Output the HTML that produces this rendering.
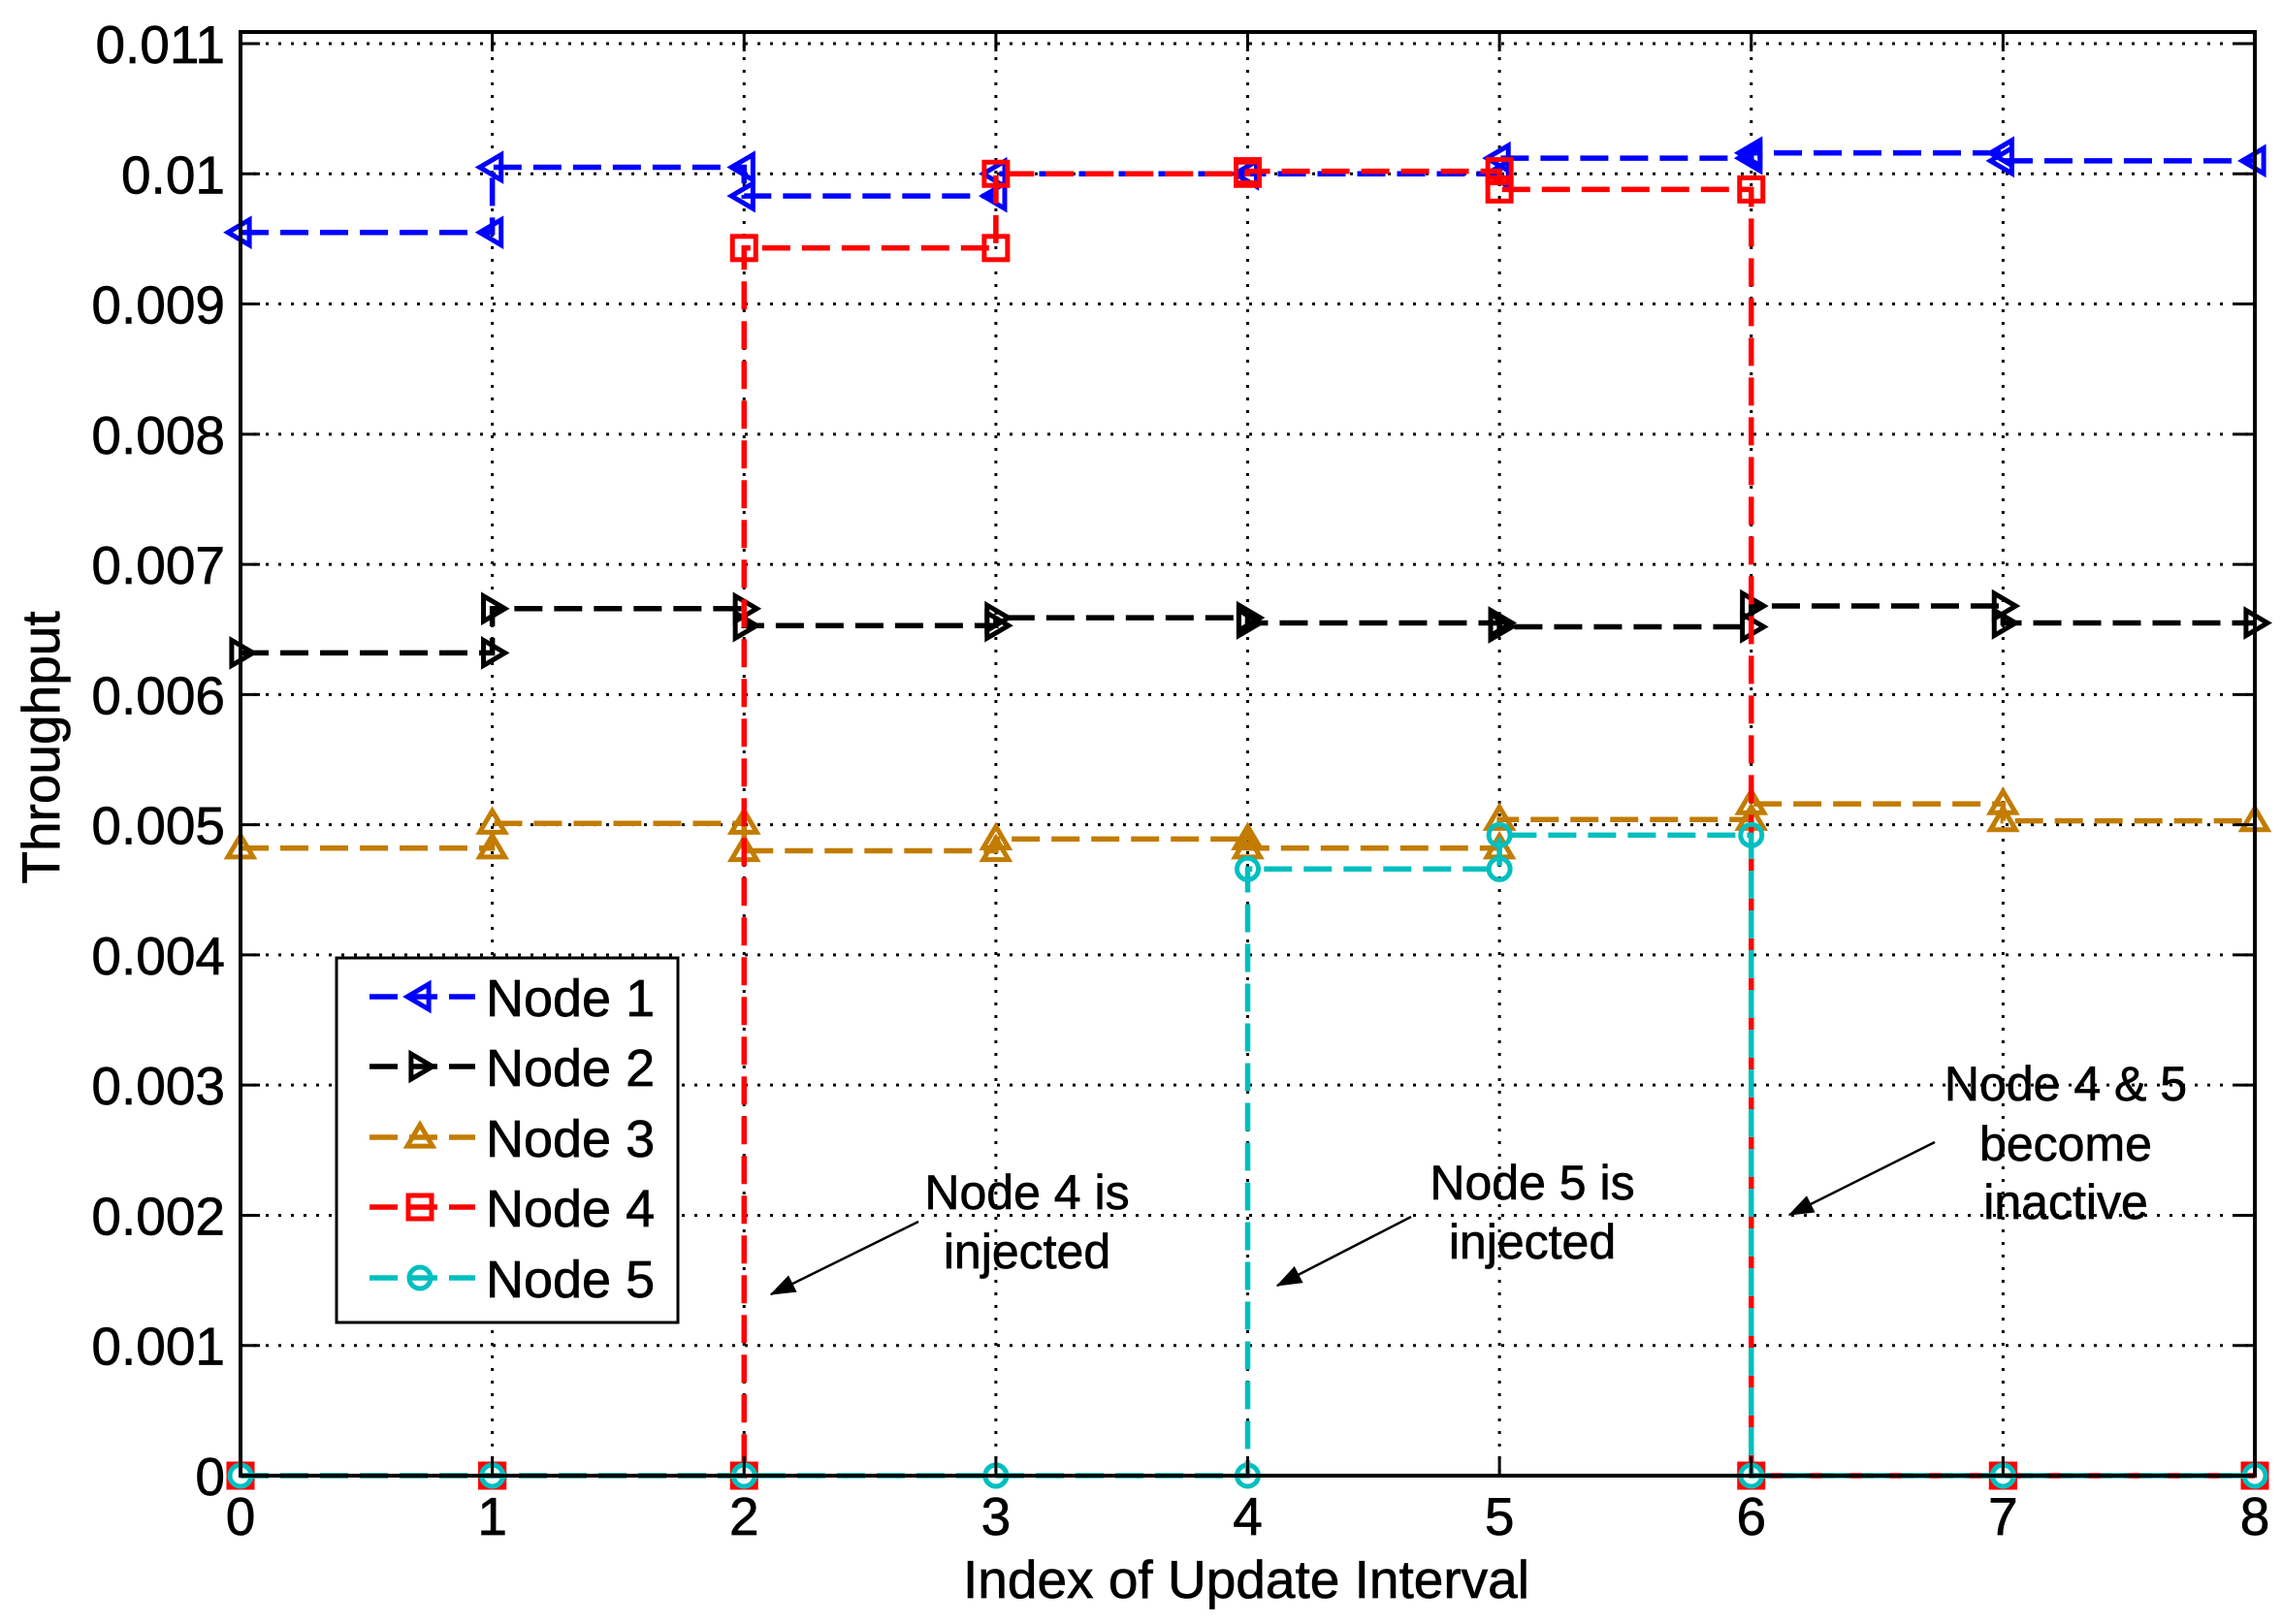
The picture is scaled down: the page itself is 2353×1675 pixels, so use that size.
<!DOCTYPE html>
<html><head><meta charset="utf-8"><style>
html,body{margin:0;padding:0;background:#fff;}
svg{display:block;}
text{font-family:"Liberation Sans",Arial,sans-serif;fill:#000;stroke:#000;stroke-width:0.7px;}
</style></head><body>
<svg id="s" width="2353" height="1675" viewBox="0 0 2353 1675" xmlns="http://www.w3.org/2000/svg">
<g id="grid"></g>
<g id="series"></g>
<rect x="248" y="33" width="2077" height="1489" fill="none" stroke="#000" stroke-width="4"/>
<g id="ticks"></g>
<g font-size="55">
<text x="1285" y="1648" text-anchor="middle">Index of Update Interval</text>
<text transform="translate(61,771) rotate(-90)" text-anchor="middle">Throughput</text>
</g>
<g font-size="50" text-anchor="middle">
<text x="1059" y="1247">Node 4 is</text><text x="1059" y="1308">injected</text>
<text x="1580" y="1237">Node 5 is</text><text x="1580" y="1298">injected</text>
<text x="2130" y="1135">Node 4 &amp; 5</text><text x="2130" y="1197">become</text><text x="2130" y="1257">inactive</text>
</g>
<g id="arrows" stroke="#000" stroke-width="2.5" fill="#000"></g>
<g id="legend"></g>
</svg>
<script>
var NS="http://www.w3.org/2000/svg";
function el(p,t,a){var e=document.createElementNS(NS,t);for(var k in a)e.setAttribute(k,a[k]);p.appendChild(e);return e;}
var X0=248,X1=2325,Y0=1522,Y1=45;
function X(i){return X0+i*(X1-X0)/8;}
function Y(v){return Y0-v*(Y0-Y1)/0.011;}
var g=document.getElementById('grid'),tk=document.getElementById('ticks');
for(var i=1;i<8;i++)el(g,'line',{x1:X(i),y1:33,x2:X(i),y2:1522,stroke:'#000','stroke-width':3,'stroke-dasharray':'3 10'});
for(var j=1;j<=11;j++)el(g,'line',{x1:248,y1:Y(j*0.001),x2:2325,y2:Y(j*0.001),stroke:'#000','stroke-width':3,'stroke-dasharray':'3 10'});
for(var i=0;i<=8;i++){el(tk,'line',{x1:X(i),y1:1522,x2:X(i),y2:1502,stroke:'#000','stroke-width':3});el(tk,'line',{x1:X(i),y1:33,x2:X(i),y2:53,stroke:'#000','stroke-width':3});
var t=el(tk,'text',{x:X(i),y:1583,'text-anchor':'middle','font-size':55});t.textContent=i;}
var labs=['0','0.001','0.002','0.003','0.004','0.005','0.006','0.007','0.008','0.009','0.01','0.011'];
for(var j=0;j<=11;j++){var y=Y(j*0.001);el(tk,'line',{x1:248,y1:y,x2:268,y2:y,stroke:'#000','stroke-width':3});el(tk,'line',{x1:2325,y1:y,x2:2305,y2:y,stroke:'#000','stroke-width':3});
var t=el(tk,'text',{x:232,y:y+20,'text-anchor':'end','font-size':55});t.textContent=labs[j];}
var S=[
{c:'#0000ff',m:'L',v:[0.00955,0.01005,0.00983,0.01000,0.01000,0.01012,0.01016,0.01010]},
{c:'#000000',m:'R',v:[0.00632,0.00666,0.00653,0.00659,0.00655,0.00652,0.00668,0.00655]},
{c:'#c27c00',m:'T',v:[0.00482,0.00501,0.00480,0.00489,0.00482,0.00504,0.00516,0.00503]},
{c:'#ff0000',m:'S',v:[0,0,0.00943,0.01000,0.01002,0.00988,0,0]},
{c:'#00bfbf',m:'O',v:[0,0,0,0,0.00466,0.00492,0,0]}];
function mk(p,m,x,y,c){var r=13,a={fill:'none',stroke:c,'stroke-width':5};
if(m=='L')a.points=(x+r*0.7)+','+(y-r)+' '+(x+r*0.7)+','+(y+r)+' '+(x-r)+','+y;
if(m=='R')a.points=(x-r*0.7)+','+(y-r)+' '+(x-r*0.7)+','+(y+r)+' '+(x+r)+','+y;
if(m=='T')a.points=(x-r)+','+(y+r*0.7)+' '+(x+r)+','+(y+r*0.7)+' '+x+','+(y-r);
if(m=='S'){a.x=x-12;a.y=y-12;a.width=24;a.height=24;el(p,'rect',a);return;}
if(m=='O'){a.cx=x;a.cy=y;a.r=11;el(p,'circle',a);return;}
el(p,'polygon',a);}
var sg=document.getElementById('series');
S.forEach(function(s){var d='M'+X(0)+','+Y(s.v[0]);var pts=[[0,s.v[0]]];
for(var i=1;i<=8;i++){d+=' L'+X(i)+','+Y(s.v[i-1]);pts.push([i,s.v[i-1]]);if(i<8){d+=' L'+X(i)+','+Y(s.v[i]);pts.push([i,s.v[i]]);}}
el(sg,'path',{d:d,fill:'none',stroke:s.c,'stroke-width':5.5,'stroke-dasharray':'29 12'});
pts.forEach(function(p){mk(sg,s.m,X(p[0]),Y(p[1]),s.c);});});
var ar=document.getElementById('arrows');
function arrow(x1,y1,x2,y2){el(ar,'line',{x1:x1,y1:y1,x2:x2,y2:y2});var a=Math.atan2(y2-y1,x2-x1),L=26,w=0.35;
el(ar,'polygon',{points:x2+','+y2+' '+(x2-L*Math.cos(a-w))+','+(y2-L*Math.sin(a-w))+' '+(x2-L*Math.cos(a+w))+','+(y2-L*Math.sin(a+w)),'stroke-width':1});}
arrow(947,1260,795,1335);arrow(1455,1255,1317,1326);arrow(1995,1178,1845,1253);
var lg=document.getElementById('legend');
el(lg,'rect',{x:347,y:988,width:352,height:376,fill:'#fff',stroke:'#000','stroke-width':3});
var ys=[1028,1100,1173,1245,1318];
S.forEach(function(s,k){var y=ys[k];el(lg,'line',{x1:381,y1:y,x2:490,y2:y,stroke:s.c,'stroke-width':5.5,'stroke-dasharray':'29 12'});
mk(lg,s.m,433,y,s.c);var t=el(lg,'text',{x:501,y:y+20,'font-size':54});t.textContent='Node '+(k+1);});
</script>
</body></html>
